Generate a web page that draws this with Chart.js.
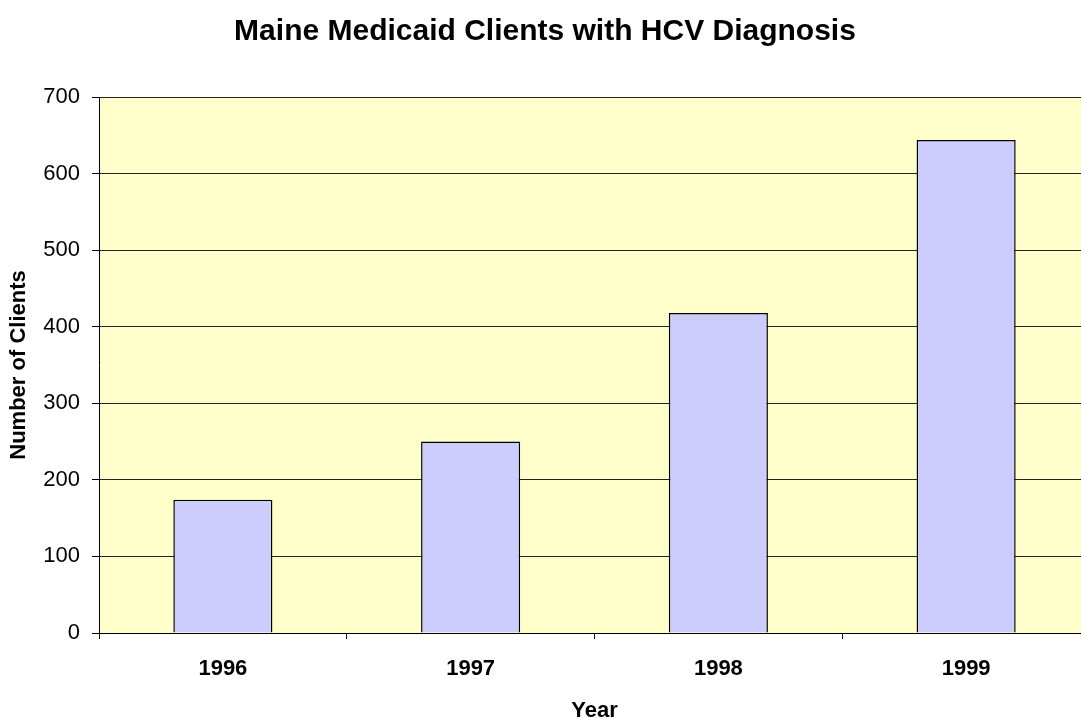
<!DOCTYPE html>
<html lang="en">
  <head>
    <meta charset="UTF-8" />
    <title>Maine Medicaid Clients with HCV Diagnosis</title>
    <style>
      body { margin: 0; overflow: hidden; background: #fff; }
    </style>
  </head>
  <body>
    <script src="https://cdn.jsdelivr.net/npm/chart.js"></script>
    <div style="width: 1090px; height: 724px">
      <canvas id="chart"></canvas>
    </div>

    <script>
      const years = ["1996", "1997", "1998", "1999"];
      const clients = [174, 250, 418, 644];
      const yTicks = [0, 100, 200, 300, 400, 500, 600, 700];

      const font = "'Liberation Sans', Arial, sans-serif";

      // yellow plot area
      const plotBg = {
        id: "plotBg",
        beforeDraw(chart) {
          const { ctx, chartArea: a } = chart;
          ctx.save();
          ctx.fillStyle = "#FFFFCC";
          ctx.fillRect(a.left, a.top, a.right - a.left, a.bottom - a.top);
          ctx.restore();
        },
      };

      new Chart(document.getElementById("chart"), {
        type: "bar",
        data: {
          labels: years,
          datasets: [
            {
              data: clients,
              backgroundColor: "#CCCCFF",
              borderColor: "#000",
              borderWidth: 1.5,
              categoryPercentage: 0.4,
              barPercentage: 1,
            },
          ],
        },
        options: {
          responsive: true,
          maintainAspectRatio: false,
          animation: false,
          layout: { padding: 0 },
          plugins: {
            legend: { display: false },
            tooltip: { enabled: false },
            title: {
              display: true,
              text: "Maine Medicaid Clients with HCV Diagnosis",
              color: "#000",
              font: { family: font, size: 30, weight: "bold" },
              padding: { top: 14, bottom: 47 },
            },
          },
          scales: {
            x: {
              afterFit: (s) => { s.height = 91; },
              grid: {
                offset: true,
                drawOnChartArea: false,
                tickLength: 6,
                tickColor: "#000",
              },
              border: { color: "#000", width: 1 },
              ticks: {
                color: "#000",
                padding: 17,
                font: { family: font, size: 22, weight: "bold" },
              },
              title: {
                display: true,
                text: "Year",
                color: "#000",
                font: { family: font, size: 22, weight: "bold" },
                padding: { top: 0, bottom: 0 },
              },
            },
            y: {
              afterFit: (s) => { s.width = 99; },
              min: 0,
              max: 700,
              afterBuildTicks: (s) => { s.ticks = yTicks.map((v) => ({ value: v })); },
              grid: {
                color: "#222",
                lineWidth: 1,
                tickLength: 7,
                tickColor: "#000",
              },
              border: { color: "#000", width: 1 },
              ticks: {
                color: "#000",
                padding: 12,
                font: { family: font, size: 22 },
              },
              title: {
                display: true,
                text: "Number of Clients",
                color: "#000",
                font: { family: font, size: 22, weight: "bold" },
                padding: { top: 6, bottom: 0 },
              },
            },
          },
        },
        plugins: [plotBg],
      });
    </script>
  </body>
</html>
